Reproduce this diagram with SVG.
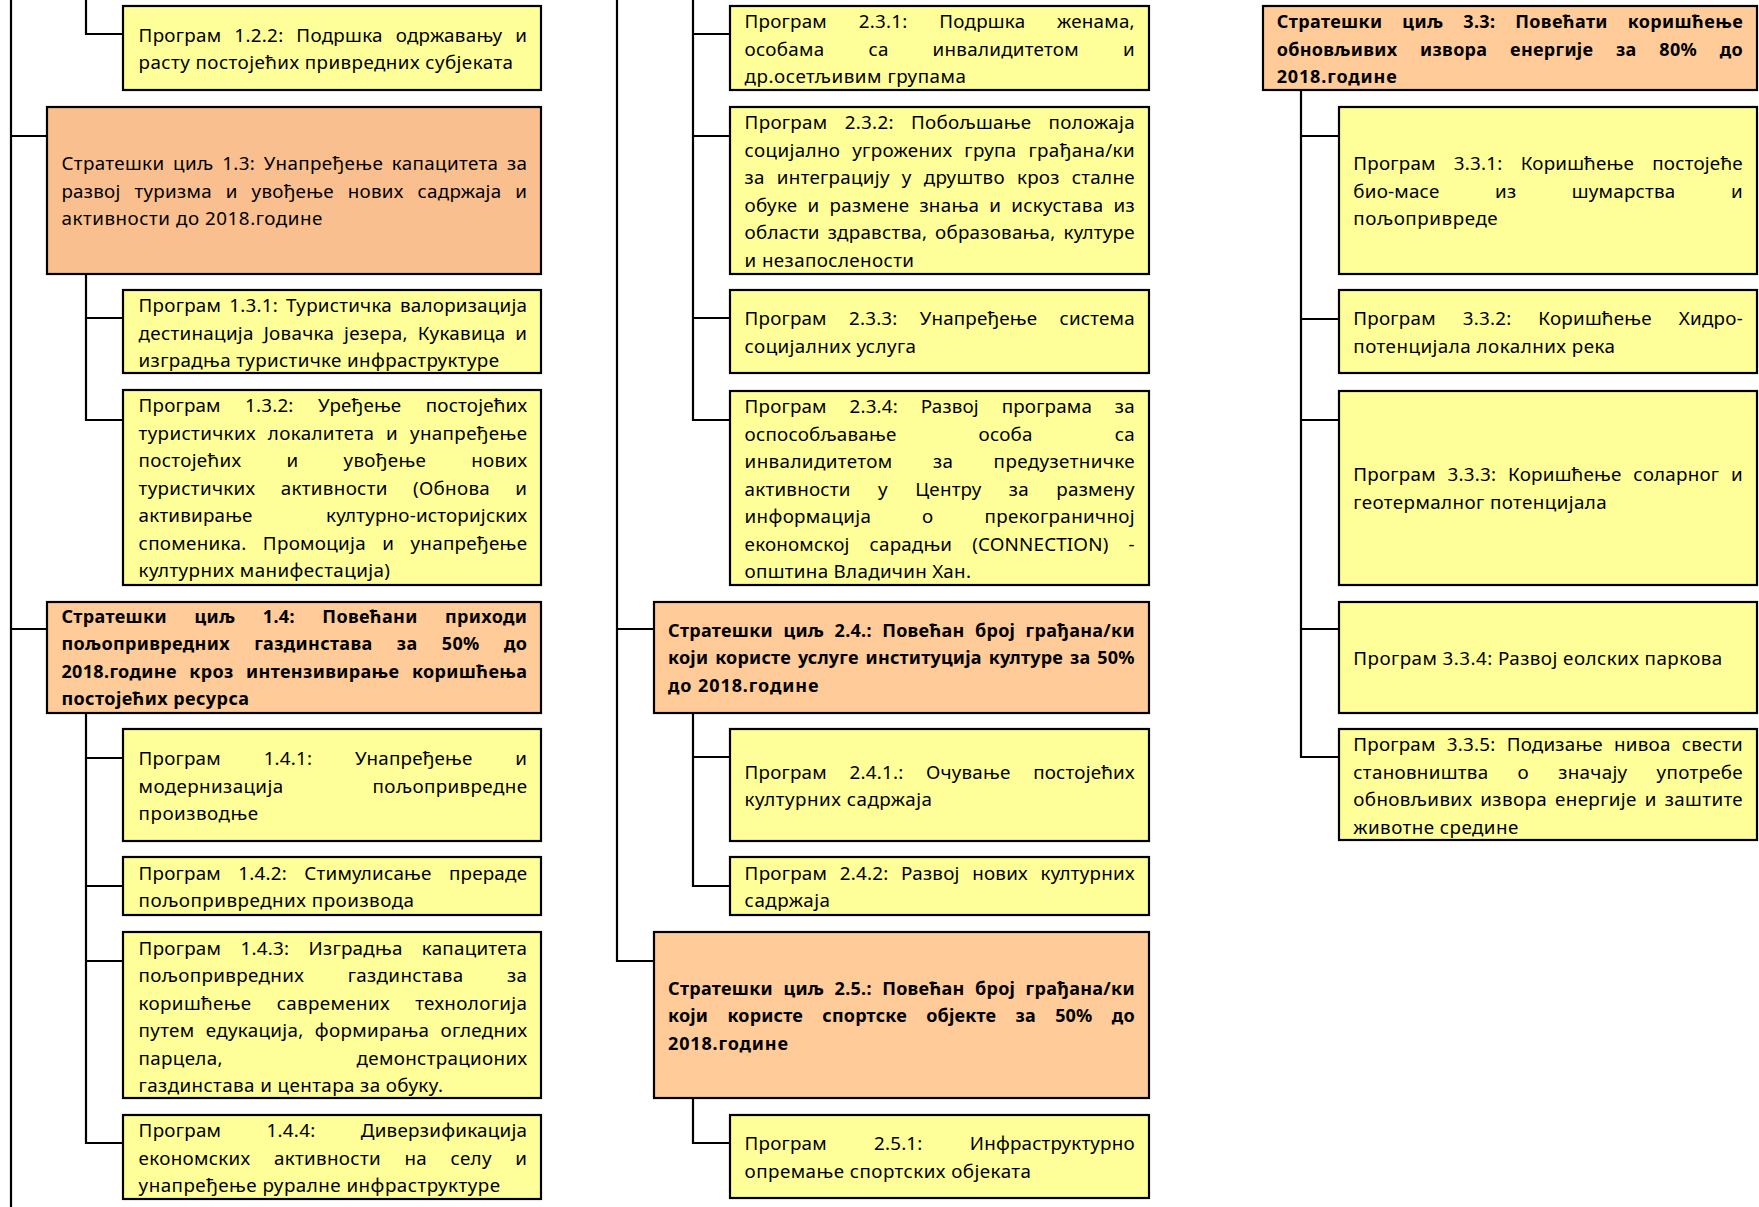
<svg xmlns="http://www.w3.org/2000/svg" width="1759" height="1207" viewBox="0 0 1759 1207">
<style>
.y{fill:#FFFF99;stroke:#000;stroke-width:2.2}
.o{fill:#FFCC99;stroke:#000;stroke-width:2.2}
.o1{fill:#FABF8F;stroke:#000;stroke-width:2.2}
text{font-family:"Noto Sans","Open Sans",sans-serif;font-size:18.8px;fill:#000}
text.b{font-weight:bold;font-size:18px}
#connectors path{fill:none;stroke:#000;stroke-width:2.2}
</style>
<rect x="0" y="0" width="1759" height="1207" fill="#fff"/>
<g id="connectors">
<path d="M11,0V1207M11,136H47M11,629H47"/>
<path d="M86,0V34H123"/>
<path d="M86,274V420H123M86,318H123"/>
<path d="M86,713V1143H123M86,758H123M86,886H123M86,961H123"/>
<path d="M617,0V961H654M617,629H654"/>
<path d="M693,0V420H730M693,34H730M693,136H730M693,318H730"/>
<path d="M693,713V886H730M693,757H730"/>
<path d="M693,1098V1143H730"/>
<path d="M1301,90V757H1339M1301,136H1339M1301,319H1339M1301,420H1339M1301,629H1339"/>
</g>

<g id="p122">
<rect class="y" x="123" y="6" width="418" height="84"/>
<text x="138.6" y="41.5" textLength="388.4" lengthAdjust="spacing" word-spacing="7.7"><tspan>Програм</tspan> <tspan>1.2.2:</tspan> <tspan>Подршка</tspan> <tspan>одржавању</tspan> <tspan>и</tspan></text>
<text x="138.6" y="69" textLength="374.4" lengthAdjust="spacing"><tspan>расту</tspan> <tspan>постојећих</tspan> <tspan>привредних</tspan> <tspan>субјеката</tspan></text>
</g>

<g id="s13">
<rect class="o1" x="47" y="107" width="494" height="167"/>
<text x="61.4" y="170" textLength="465.6" lengthAdjust="spacing" word-spacing="3.4"><tspan>Стратешки</tspan> <tspan>циљ</tspan> <tspan>1.3:</tspan> <tspan>Унапређење</tspan> <tspan>капацитета</tspan> <tspan>за</tspan></text>
<text x="61.4" y="197.5" textLength="465.6" lengthAdjust="spacing" word-spacing="8.7"><tspan>развој</tspan> <tspan>туризма</tspan> <tspan>и</tspan> <tspan>увођење</tspan> <tspan>нових</tspan> <tspan>садржаја</tspan> <tspan>и</tspan></text>
<text x="61.4" y="225" textLength="261" lengthAdjust="spacing"><tspan>активности</tspan> <tspan>до</tspan> <tspan>2018.године</tspan></text>
</g>

<g id="p131">
<rect class="y" x="123" y="290" width="418" height="83"/>
<text x="138.6" y="312" textLength="388.4" lengthAdjust="spacing" word-spacing="2.9"><tspan>Програм</tspan> <tspan>1.3.1:</tspan> <tspan>Туристичка</tspan> <tspan>валоризација</tspan></text>
<text x="138.6" y="339.5" textLength="388.4" lengthAdjust="spacing" word-spacing="4.7"><tspan>дестинација</tspan> <tspan>Јовачка</tspan> <tspan>језера,</tspan> <tspan>Кукавица</tspan> <tspan>и</tspan></text>
<text x="138.6" y="367" textLength="360.4" lengthAdjust="spacing"><tspan>изградња</tspan> <tspan>туристичке</tspan> <tspan>инфраструктуре</tspan></text>
</g>

<g id="p132">
<rect class="y" x="123" y="390" width="418" height="195"/>
<text x="138.6" y="412" textLength="388.4" lengthAdjust="spacing" word-spacing="19.3"><tspan>Програм</tspan> <tspan>1.3.2:</tspan> <tspan>Уређење</tspan> <tspan>постојећих</tspan></text>
<text x="138.6" y="439.5" textLength="388.4" lengthAdjust="spacing" word-spacing="6.6"><tspan>туристичких</tspan> <tspan>локалитета</tspan> <tspan>и</tspan> <tspan>унапређење</tspan></text>
<text x="138.6" y="467" textLength="388.4" lengthAdjust="spacing" word-spacing="39.9"><tspan>постојећих</tspan> <tspan>и</tspan> <tspan>увођење</tspan> <tspan>нових</tspan></text>
<text x="138.6" y="494.5" textLength="388.4" lengthAdjust="spacing" word-spacing="20"><tspan>туристичких</tspan> <tspan>активности</tspan> <tspan>(Обнова</tspan> <tspan>и</tspan></text>
<text x="138.6" y="522" textLength="388.4" lengthAdjust="spacing" word-spacing="68.3"><tspan>активирање</tspan> <tspan>културно-историјских</tspan></text>
<text x="138.6" y="549.5" textLength="388.4" lengthAdjust="spacing" word-spacing="11"><tspan>споменика.</tspan> <tspan>Промоција</tspan> <tspan>и</tspan> <tspan>унапређење</tspan></text>
<text x="138.6" y="577" textLength="251.4" lengthAdjust="spacing"><tspan>културних</tspan> <tspan>манифестација)</tspan></text>
</g>

<g id="s14">
<rect class="o" x="47" y="602" width="494" height="111"/>
<text class="b" x="61.4" y="622.5" textLength="465.6" lengthAdjust="spacing" word-spacing="22.4"><tspan>Стратешки</tspan> <tspan>циљ</tspan> <tspan>1.4:</tspan> <tspan>Повећани</tspan> <tspan>приходи</tspan></text>
<text class="b" x="61.4" y="650" textLength="465.6" lengthAdjust="spacing" word-spacing="19.3"><tspan>пољопривредних</tspan> <tspan>газдинстава</tspan> <tspan>за</tspan> <tspan>50%</tspan> <tspan>до</tspan></text>
<text class="b" x="61.4" y="677.5" textLength="465.6" lengthAdjust="spacing" word-spacing="7.4"><tspan>2018.године</tspan> <tspan>кроз</tspan> <tspan>интензивирање</tspan> <tspan>коришћења</tspan></text>
<text class="b" x="61.4" y="705" textLength="187.6" lengthAdjust="spacing"><tspan>постојећих</tspan> <tspan>ресурса</tspan></text>
</g>

<g id="p141">
<rect class="y" x="123" y="729" width="418" height="112"/>
<text x="138.6" y="765" textLength="388.4" lengthAdjust="spacing" word-spacing="37.7"><tspan>Програм</tspan> <tspan>1.4.1:</tspan> <tspan>Унапређење</tspan> <tspan>и</tspan></text>
<text x="138.6" y="792.5" textLength="388.4" lengthAdjust="spacing" word-spacing="83.8"><tspan>модернизација</tspan> <tspan>пољопривредне</tspan></text>
<text x="138.6" y="820" textLength="119.4" lengthAdjust="spacing"><tspan>производње</tspan></text>
</g>

<g id="p142">
<rect class="y" x="123" y="857" width="418" height="58"/>
<text x="138.6" y="879.5" textLength="388.4" lengthAdjust="spacing" word-spacing="12.3"><tspan>Програм</tspan> <tspan>1.4.2:</tspan> <tspan>Стимулисање</tspan> <tspan>прераде</tspan></text>
<text x="138.6" y="907" textLength="275.4" lengthAdjust="spacing"><tspan>пољопривредних</tspan> <tspan>производа</tspan></text>
</g>

<g id="p143">
<rect class="y" x="123" y="932" width="418" height="166"/>
<text x="138.6" y="954.5" textLength="388.4" lengthAdjust="spacing" word-spacing="14.1"><tspan>Програм</tspan> <tspan>1.4.3:</tspan> <tspan>Изградња</tspan> <tspan>капацитета</tspan></text>
<text x="138.6" y="982" textLength="388.4" lengthAdjust="spacing" word-spacing="38.3"><tspan>пољопривредних</tspan> <tspan>газдинстава</tspan> <tspan>за</tspan></text>
<text x="138.6" y="1009.5" textLength="388.4" lengthAdjust="spacing" word-spacing="19.9"><tspan>коришћење</tspan> <tspan>савремених</tspan> <tspan>технологија</tspan></text>
<text x="138.6" y="1037" textLength="388.4" lengthAdjust="spacing" word-spacing="5.9"><tspan>путем</tspan> <tspan>едукација,</tspan> <tspan>формирања</tspan> <tspan>огледних</tspan></text>
<text x="138.6" y="1064.5" textLength="388.4" lengthAdjust="spacing" word-spacing="128.6"><tspan>парцела,</tspan> <tspan>демонстрационих</tspan></text>
<text x="138.6" y="1092" textLength="304.4" lengthAdjust="spacing"><tspan>газдинстава</tspan> <tspan>и</tspan> <tspan>центара</tspan> <tspan>за</tspan> <tspan>обуку.</tspan></text>
</g>

<g id="p144">
<rect class="y" x="123" y="1115" width="418" height="84"/>
<text x="138.6" y="1137" textLength="388.4" lengthAdjust="spacing" word-spacing="40.1"><tspan>Програм</tspan> <tspan>1.4.4:</tspan> <tspan>Диверзификација</tspan></text>
<text x="138.6" y="1164.5" textLength="388.4" lengthAdjust="spacing" word-spacing="18.3"><tspan>економских</tspan> <tspan>активности</tspan> <tspan>на</tspan> <tspan>селу</tspan> <tspan>и</tspan></text>
<text x="138.6" y="1192" textLength="361.4" lengthAdjust="spacing"><tspan>унапређење</tspan> <tspan>руралне</tspan> <tspan>инфраструктуре</tspan></text>
</g>

<g id="p231">
<rect class="y" x="730" y="6" width="419" height="84"/>
<text x="744.6" y="28" textLength="390" lengthAdjust="spacing" word-spacing="26.7"><tspan>Програм</tspan> <tspan>2.3.1:</tspan> <tspan>Подршка</tspan> <tspan>женама,</tspan></text>
<text x="744.6" y="55.5" textLength="390" lengthAdjust="spacing" word-spacing="38.8"><tspan>особама</tspan> <tspan>са</tspan> <tspan>инвалидитетом</tspan> <tspan>и</tspan></text>
<text x="744.6" y="83" textLength="221.4" lengthAdjust="spacing"><tspan>др.осетљивим</tspan> <tspan>групама</tspan></text>
</g>

<g id="p232">
<rect class="y" x="730" y="107" width="419" height="167"/>
<text x="744.6" y="129" textLength="390" lengthAdjust="spacing" word-spacing="12"><tspan>Програм</tspan> <tspan>2.3.2:</tspan> <tspan>Побољшање</tspan> <tspan>положаја</tspan></text>
<text x="744.6" y="156.5" textLength="390" lengthAdjust="spacing" word-spacing="6.6"><tspan>социјално</tspan> <tspan>угрожених</tspan> <tspan>група</tspan> <tspan>грађана/ки</tspan></text>
<text x="744.6" y="184" textLength="390" lengthAdjust="spacing" word-spacing="6.9"><tspan>за</tspan> <tspan>интеграцију</tspan> <tspan>у</tspan> <tspan>друштво</tspan> <tspan>кроз</tspan> <tspan>сталне</tspan></text>
<text x="744.6" y="211.5" textLength="390" lengthAdjust="spacing" word-spacing="4.8"><tspan>обуке</tspan> <tspan>и</tspan> <tspan>размене</tspan> <tspan>знања</tspan> <tspan>и</tspan> <tspan>искустава</tspan> <tspan>из</tspan></text>
<text x="744.6" y="239" textLength="390" lengthAdjust="spacing" word-spacing="2.8"><tspan>области</tspan> <tspan>здравства,</tspan> <tspan>образовања,</tspan> <tspan>културе</tspan></text>
<text x="744.6" y="266.5" textLength="169.4" lengthAdjust="spacing"><tspan>и</tspan> <tspan>незапослености</tspan></text>
</g>

<g id="p233">
<rect class="y" x="730" y="290" width="419" height="83"/>
<text x="744.6" y="325" textLength="390" lengthAdjust="spacing" word-spacing="17.3"><tspan>Програм</tspan> <tspan>2.3.3:</tspan> <tspan>Унапређење</tspan> <tspan>система</tspan></text>
<text x="744.6" y="352.5" textLength="171.4" lengthAdjust="spacing"><tspan>социјалних</tspan> <tspan>услуга</tspan></text>
</g>

<g id="p234">
<rect class="y" x="730" y="391" width="419" height="194"/>
<text x="744.6" y="413" textLength="390" lengthAdjust="spacing" word-spacing="17.7"><tspan>Програм</tspan> <tspan>2.3.4:</tspan> <tspan>Развој</tspan> <tspan>програма</tspan> <tspan>за</tspan></text>
<text x="744.6" y="440.5" textLength="390" lengthAdjust="spacing" word-spacing="76.9"><tspan>оспособљавање</tspan> <tspan>особа</tspan> <tspan>са</tspan></text>
<text x="744.6" y="468" textLength="390" lengthAdjust="spacing" word-spacing="35"><tspan>инвалидитетом</tspan> <tspan>за</tspan> <tspan>предузетничке</tspan></text>
<text x="744.6" y="495.5" textLength="390" lengthAdjust="spacing" word-spacing="22.3"><tspan>активности</tspan> <tspan>у</tspan> <tspan>Центру</tspan> <tspan>за</tspan> <tspan>размену</tspan></text>
<text x="744.6" y="523" textLength="390" lengthAdjust="spacing" word-spacing="45.7"><tspan>информација</tspan> <tspan>о</tspan> <tspan>прекограничној</tspan></text>
<text x="744.6" y="550.5" textLength="390" lengthAdjust="spacing" word-spacing="15"><tspan>економској</tspan> <tspan>сарадњи</tspan> <tspan>(CONNECTION)</tspan> <tspan>-</tspan></text>
<text x="744.6" y="578" textLength="226.4" lengthAdjust="spacing"><tspan>општина</tspan> <tspan>Владичин</tspan> <tspan>Хан.</tspan></text>
</g>

<g id="s24">
<rect class="o" x="654" y="602" width="495" height="111"/>
<text class="b" x="668" y="636.5" textLength="466.6" lengthAdjust="spacing" word-spacing="5.4"><tspan>Стратешки</tspan> <tspan>циљ</tspan> <tspan>2.4.:</tspan> <tspan>Повећан</tspan> <tspan>број</tspan> <tspan>грађана/ки</tspan></text>
<text class="b" x="668" y="664" textLength="466.6" lengthAdjust="spacing" word-spacing="2.1"><tspan>који</tspan> <tspan>користе</tspan> <tspan>услуге</tspan> <tspan>институција</tspan> <tspan>културе</tspan> <tspan>за</tspan> <tspan>50%</tspan></text>
<text class="b" x="668" y="691.5" textLength="150.6" lengthAdjust="spacing"><tspan>до</tspan> <tspan>2018.године</tspan></text>
</g>

<g id="p241">
<rect class="y" x="730" y="729" width="419" height="112"/>
<text x="744.6" y="778.5" textLength="390" lengthAdjust="spacing" word-spacing="17.6"><tspan>Програм</tspan> <tspan>2.4.1.:</tspan> <tspan>Очување</tspan> <tspan>постојећих</tspan></text>
<text x="744.6" y="806" textLength="187.4" lengthAdjust="spacing"><tspan>културних</tspan> <tspan>садржаја</tspan></text>
</g>

<g id="p242">
<rect class="y" x="730" y="857" width="419" height="58"/>
<text x="744.6" y="879.5" textLength="390" lengthAdjust="spacing" word-spacing="7.3"><tspan>Програм</tspan> <tspan>2.4.2:</tspan> <tspan>Развој</tspan> <tspan>нових</tspan> <tspan>културних</tspan></text>
<text x="744.6" y="907" textLength="85.4" lengthAdjust="spacing"><tspan>садржаја</tspan></text>
</g>

<g id="s25">
<rect class="o" x="654" y="932" width="495" height="166"/>
<text class="b" x="668" y="994.5" textLength="466.6" lengthAdjust="spacing" word-spacing="5.4"><tspan>Стратешки</tspan> <tspan>циљ</tspan> <tspan>2.5.:</tspan> <tspan>Повећан</tspan> <tspan>број</tspan> <tspan>грађана/ки</tspan></text>
<text class="b" x="668" y="1022" textLength="466.6" lengthAdjust="spacing" word-spacing="14.4"><tspan>који</tspan> <tspan>користе</tspan> <tspan>спортске</tspan> <tspan>објекте</tspan> <tspan>за</tspan> <tspan>50%</tspan> <tspan>до</tspan></text>
<text class="b" x="668" y="1049.5" textLength="120" lengthAdjust="spacing"><tspan>2018.године</tspan></text>
</g>

<g id="p251">
<rect class="y" x="730" y="1115" width="419" height="83"/>
<text x="744.6" y="1150" textLength="390" lengthAdjust="spacing" word-spacing="42.2"><tspan>Програм</tspan> <tspan>2.5.1:</tspan> <tspan>Инфраструктурно</tspan></text>
<text x="744.6" y="1177.5" textLength="286.4" lengthAdjust="spacing"><tspan>опремање</tspan> <tspan>спортских</tspan> <tspan>објеката</tspan></text>
</g>

<g id="s33">
<rect class="o" x="1263" y="6" width="494" height="84"/>
<text class="b" x="1276.7" y="28" textLength="466" lengthAdjust="spacing" word-spacing="14.7"><tspan>Стратешки</tspan> <tspan>циљ</tspan> <tspan>3.3:</tspan> <tspan>Повећати</tspan> <tspan>коришћење</tspan></text>
<text class="b" x="1276.7" y="55.5" textLength="466" lengthAdjust="spacing" word-spacing="17.7"><tspan>обновљивих</tspan> <tspan>извора</tspan> <tspan>енергије</tspan> <tspan>за</tspan> <tspan>80%</tspan> <tspan>до</tspan></text>
<text class="b" x="1276.7" y="83" textLength="120" lengthAdjust="spacing"><tspan>2018.године</tspan></text>
</g>

<g id="p331">
<rect class="y" x="1339" y="107" width="418" height="167"/>
<text x="1353.3" y="170" textLength="389.4" lengthAdjust="spacing" word-spacing="13"><tspan>Програм</tspan> <tspan>3.3.1:</tspan> <tspan>Коришћење</tspan> <tspan>постојеће</tspan></text>
<text x="1353.3" y="197.5" textLength="389.4" lengthAdjust="spacing" word-spacing="50.4"><tspan>био-масе</tspan> <tspan>из</tspan> <tspan>шумарства</tspan> <tspan>и</tspan></text>
<text x="1353.3" y="225" textLength="144.4" lengthAdjust="spacing"><tspan>пољопривреде</tspan></text>
</g>

<g id="p332">
<rect class="y" x="1339" y="290" width="418" height="83"/>
<text x="1353.3" y="325" textLength="389.4" lengthAdjust="spacing" word-spacing="21.7"><tspan>Програм</tspan> <tspan>3.3.2:</tspan> <tspan>Коришћење</tspan> <tspan>Хидро-</tspan></text>
<text x="1353.3" y="352.5" textLength="261.7" lengthAdjust="spacing"><tspan>потенцијала</tspan> <tspan>локалних</tspan> <tspan>река</tspan></text>
</g>

<g id="p333">
<rect class="y" x="1339" y="391" width="418" height="194"/>
<text x="1353.3" y="481" textLength="389.4" lengthAdjust="spacing" word-spacing="6.6"><tspan>Програм</tspan> <tspan>3.3.3:</tspan> <tspan>Коришћење</tspan> <tspan>соларног</tspan> <tspan>и</tspan></text>
<text x="1353.3" y="508.5" textLength="253.4" lengthAdjust="spacing"><tspan>геотермалног</tspan> <tspan>потенцијала</tspan></text>
</g>

<g id="p334">
<rect class="y" x="1339" y="602" width="418" height="111"/>
<text x="1353.3" y="664.5" textLength="369" lengthAdjust="spacing"><tspan>Програм</tspan> <tspan>3.3.4:</tspan> <tspan>Развој</tspan> <tspan>еолских</tspan> <tspan>паркова</tspan></text>
</g>

<g id="p335">
<rect class="y" x="1339" y="729" width="418" height="111"/>
<text x="1353.3" y="751" textLength="389.4" lengthAdjust="spacing" word-spacing="6.1"><tspan>Програм</tspan> <tspan>3.3.5:</tspan> <tspan>Подизање</tspan> <tspan>нивоа</tspan> <tspan>свести</tspan></text>
<text x="1353.3" y="778.5" textLength="389.4" lengthAdjust="spacing" word-spacing="24"><tspan>становништва</tspan> <tspan>о</tspan> <tspan>значају</tspan> <tspan>употребе</tspan></text>
<text x="1353.3" y="806" textLength="389.4" lengthAdjust="spacing" word-spacing="2.7"><tspan>обновљивих</tspan> <tspan>извора</tspan> <tspan>енергије</tspan> <tspan>и</tspan> <tspan>заштите</tspan></text>
<text x="1353.3" y="833.5" textLength="165" lengthAdjust="spacing"><tspan>животне</tspan> <tspan>средине</tspan></text>
</g>
</svg>
